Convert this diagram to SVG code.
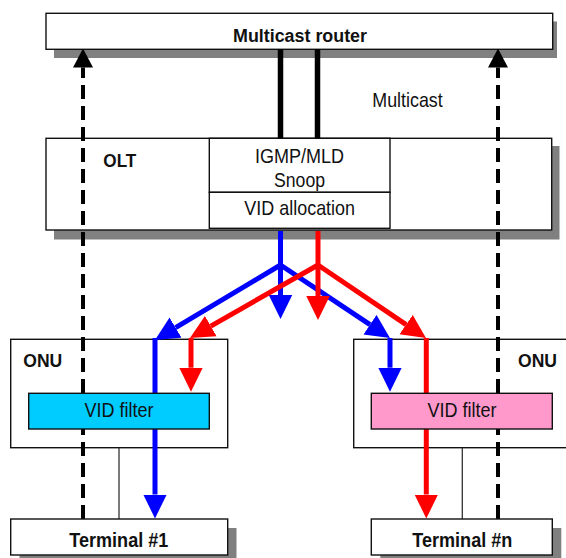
<svg xmlns="http://www.w3.org/2000/svg" width="566" height="558" viewBox="0 0 566 558">
  <style>
    .box { fill: #ffffff; stroke: #111111; stroke-width: 1.4; }
    .shadow { fill: #808080; stroke: none; }
    .filter-a { fill: #00ccff; stroke: #111111; stroke-width: 1.4; }
    .filter-b { fill: #ff99cc; stroke: #111111; stroke-width: 1.4; }
    .link { stroke: #333333; stroke-width: 1.3; fill: none; }
    .trunk { stroke: #000000; stroke-width: 5.5; fill: none; }
    .join { stroke: #000000; stroke-width: 4; fill: none; stroke-dasharray: 14 7; }
    .blue { stroke: #0000ff; stroke-width: 5; fill: none; marker-end: url(#headBlue); }
    .red { stroke: #ff0000; stroke-width: 5; fill: none; marker-end: url(#headRed); }
    .lbl { font-family: "Liberation Sans Narrow", "Liberation Sans", Arial, sans-serif; font-size: 21px; fill: #111111; }
    .bold { font-family: "Liberation Sans", Arial, sans-serif; font-weight: bold; font-size: 18px; fill: #111111; }
    .big { font-size: 20px; }
  </style>
  <defs>
    <marker id="headBlue" markerUnits="userSpaceOnUse" markerWidth="24" markerHeight="24" refX="0" refY="11.75" orient="auto" viewBox="0 0 24 23.5">
      <path d="M0,0 L24,11.75 L0,23.5 z" fill="#0000ff"/>
    </marker>
    <marker id="headRed" markerUnits="userSpaceOnUse" markerWidth="24" markerHeight="24" refX="0" refY="11.75" orient="auto" viewBox="0 0 24 23.5">
      <path d="M0,0 L24,11.75 L0,23.5 z" fill="#ff0000"/>
    </marker>
    <marker id="headBlack" markerUnits="userSpaceOnUse" markerWidth="19" markerHeight="20" refX="0" refY="10" orient="auto" viewBox="0 0 19 20">
      <path d="M0,0 L19,10 L0,20 z" fill="#000000"/>
    </marker>
  </defs>

  <!-- Multicast router -->
  <g id="router">
    <rect class="shadow" x="54" y="21.5" width="503" height="36.5"/>
    <rect class="box" x="46" y="13.3" width="506.7" height="36"/>
    <text class="bold" x="300" y="42.3" text-anchor="middle" textLength="134" lengthAdjust="spacingAndGlyphs">Multicast router</text>
  </g>

  <!-- OLT with snooping block -->
  <g id="olt">
    <rect class="shadow" x="54" y="146" width="505.5" height="93.5"/>
    <rect class="box" x="46" y="138.3" width="505.7" height="91.7"/>
    <text class="bold" x="103.3" y="167.3" textLength="33" lengthAdjust="spacingAndGlyphs">OLT</text>
  </g>
  <g id="snoop">
    <rect class="box" x="209.3" y="138.3" width="180.7" height="54"/>
    <rect class="box" x="209.3" y="192.3" width="180.7" height="36"/>
    <text class="lbl" x="299.5" y="163.3" text-anchor="middle" textLength="89" lengthAdjust="spacingAndGlyphs">IGMP/MLD</text>
    <text class="lbl" x="299.5" y="186.7" text-anchor="middle" textLength="51" lengthAdjust="spacingAndGlyphs">Snoop</text>
    <text class="lbl" x="299.7" y="215" text-anchor="middle" textLength="110.7" lengthAdjust="spacingAndGlyphs">VID allocation</text>
  </g>

  <text class="lbl" x="407.5" y="106.7" text-anchor="middle" textLength="70.5" lengthAdjust="spacingAndGlyphs">Multicast</text>

  <!-- ONU frames -->
  <g id="onu1">
    <rect class="box" x="10.7" y="339.3" width="217" height="108.4"/>
    <text class="bold" x="23.3" y="367.3" textLength="39" lengthAdjust="spacingAndGlyphs">ONU</text>
  </g>
  <g id="onuN">
    <rect class="box" x="353.7" y="339.3" width="220" height="108.4"/>
    <text class="bold" x="518" y="367.3" textLength="39" lengthAdjust="spacingAndGlyphs">ONU</text>
  </g>

  <!-- connectors -->
  <g id="connectors">
    <!-- router to OLT trunk -->
    <line class="trunk" x1="280.5" y1="49.3" x2="280.5" y2="138.3"/>
    <line class="trunk" x1="317.5" y1="49.3" x2="317.5" y2="138.3"/>

    <!-- ONU to terminal -->
    <line class="link" x1="119" y1="447.7" x2="119" y2="519"/>
    <line class="link" x1="462.3" y1="447.7" x2="462.3" y2="519"/>

    <!-- terminal joins toward the router -->
    <line class="join" x1="83" y1="519" x2="83" y2="67.5" marker-end="url(#headBlack)"/>
    <line class="join" x1="498" y1="519" x2="498" y2="67.5" marker-end="url(#headBlack)"/>

    <!-- blue stream -->
    <line class="blue" x1="280.5" y1="231" x2="280.5" y2="295"/>
    <polyline class="blue" points="280.5,231 280.5,265 175.6,327.7"/>
    <polyline class="blue" points="280.5,265 370,324.7"/>
    <line class="blue" x1="155" y1="338" x2="155" y2="494.5"/>
    <line class="blue" x1="390" y1="338" x2="390" y2="367.7"/>

    <!-- red stream -->
    <line class="red" x1="318" y1="231" x2="318" y2="296"/>
    <polyline class="red" points="318,265 210.8,326.1"/>
    <polyline class="red" points="318,265 406.1,324.6"/>
    <line class="red" x1="191" y1="338" x2="191" y2="367.7"/>
    <line class="red" x1="426.3" y1="338" x2="426.3" y2="494.5"/>
  </g>

  <!-- VID filters -->
  <g id="filter1">
    <rect class="filter-a" x="28.7" y="393.3" width="180.6" height="35.7"/>
    <text class="lbl" x="119" y="416.7" text-anchor="middle" textLength="69" lengthAdjust="spacingAndGlyphs">VID filter</text>
  </g>
  <g id="filterN">
    <rect class="filter-b" x="371.3" y="393.3" width="181" height="35.7"/>
    <text class="lbl" x="462" y="416.7" text-anchor="middle" textLength="69" lengthAdjust="spacingAndGlyphs">VID filter</text>
  </g>

  <!-- terminals -->
  <g id="terminal1">
    <rect class="shadow" x="19.5" y="528" width="217" height="36"/>
    <rect class="box" x="10.7" y="519" width="217" height="36"/>
    <text class="bold big" x="118.8" y="546.7" text-anchor="middle" textLength="99" lengthAdjust="spacingAndGlyphs">Terminal #1</text>
  </g>
  <g id="terminalN">
    <rect class="shadow" x="380.3" y="528" width="181" height="36"/>
    <rect class="box" x="371.3" y="519" width="181" height="36"/>
    <text class="bold big" x="462.3" y="546.7" text-anchor="middle" textLength="100" lengthAdjust="spacingAndGlyphs">Terminal #n</text>
  </g>
</svg>
